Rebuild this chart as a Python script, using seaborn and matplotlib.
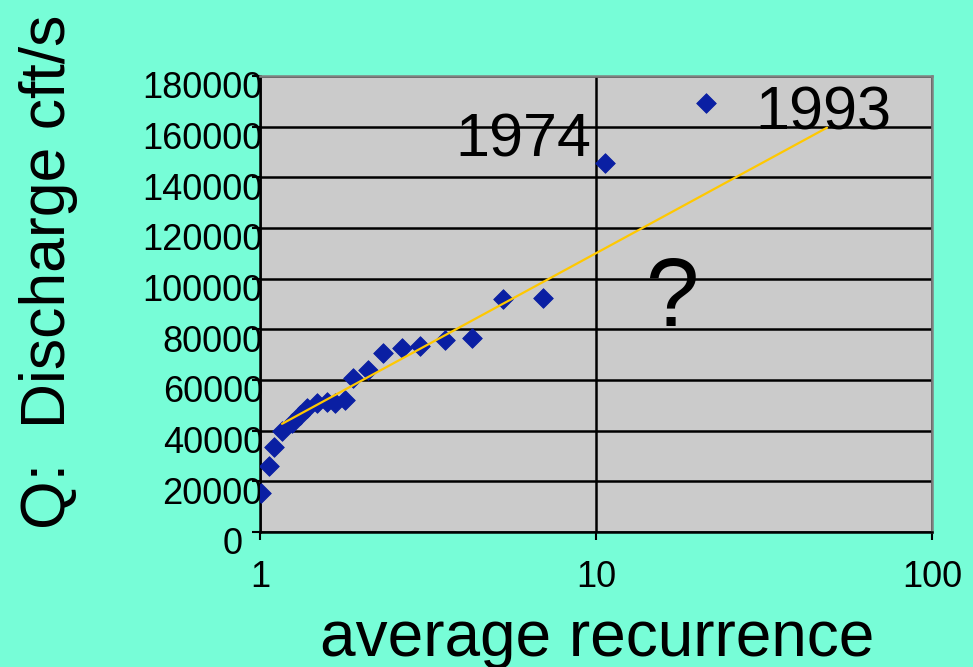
import numpy as np
import pandas as pd
import matplotlib
matplotlib.use("Agg")
import matplotlib.pyplot as plt
import matplotlib.transforms as mtransforms
from matplotlib.ticker import FixedLocator, NullLocator, FixedFormatter
import seaborn as sns

# ── DATA ──────────────────────────────────────────────────────
recurrence = [1.01, 1.064, 1.10, 1.163, 1.245, 1.315, 1.38, 1.478, 1.583, 1.671,
              1.79, 1.89, 2.10, 2.32, 2.65, 2.99, 3.55, 4.27, 5.29, 6.95, 10.6, 21.2]
discharge = [15400, 26100, 33600, 39900, 43100, 46200, 49000, 51000, 51400, 51000,
             52200, 60800, 64000, 70700, 72700, 73500, 75900, 76700, 92100, 92500,
             145800, 169500]

trend_x = [1.163, 48.7]
trend_y = [42700, 159600]

y_ticks = list(range(0, 180001, 20000))
x_ticks = [1, 10, 100]
x_tick_labels = ["1", "10", "100"]

notes = ["1974", "1993", "?"]
note_x = [6.06, 47.4, 16.8]
note_y = [148200, 158800, 81400]
note_size = [44, 44, 69]

df = pd.DataFrame({"recurrence": recurrence, "discharge": discharge})
trend = pd.DataFrame({"x": trend_x, "y": trend_y})

# ── STYLE ─────────────────────────────────────────────────────
sns.set_style("white")
plt.rcParams["font.family"] = ["Liberation Sans", "DejaVu Sans"]
plt.rcParams["text.color"] = "black"
plt.rcParams["xtick.color"] = "black"
plt.rcParams["ytick.color"] = "black"
plt.rcParams["xtick.labelcolor"] = "black"
plt.rcParams["ytick.labelcolor"] = "black"

BG = "#77FDD7"
PLOT_BG = "#CBCBCB"
BLUE = "#0A1FA3"
GOLD = "#FFC800"

fig = plt.figure(figsize=(9.73, 6.67), dpi=100, facecolor=BG)
ax = fig.add_axes([260 / 973, 1 - 532 / 667, 672 / 973, 456 / 667])
ax.set_facecolor(PLOT_BG)

# ── PLOT ──────────────────────────────────────────────────────
sns.scatterplot(data=df, x="recurrence", y="discharge", marker="D", s=100,
                color=BLUE, edgecolor=BLUE, linewidth=0.6, ax=ax, zorder=3)
sns.lineplot(data=trend, x="x", y="y", color=GOLD, linewidth=1.6, ax=ax, zorder=4)

ax.set_xscale("log")
ax.set_xlim(1, 100)
ax.set_ylim(0, 180000)

ax.xaxis.set_major_locator(FixedLocator(x_ticks))
ax.xaxis.set_major_formatter(FixedFormatter(x_tick_labels))
ax.xaxis.set_minor_locator(NullLocator())
ax.set_yticks(y_ticks)
ax.set_yticklabels([str(v) for v in y_ticks])

ax.grid(True, which="major", color="black", linewidth=1.8, zorder=1)
ax.set_axisbelow(True)

for side in ["left", "bottom"]:
    ax.spines[side].set_color("black")
    ax.spines[side].set_linewidth(1.8)
for side in ["top", "right"]:
    ax.spines[side].set_color("#808080")
    ax.spines[side].set_linewidth(1.8)

ax.tick_params(axis="y", direction="out", length=6, width=1.5, colors="black",
               labelsize=26, pad=-8, left=True)
ax.tick_params(axis="x", direction="out", length=6, width=1.5, colors="black",
               labelsize=26, pad=14, bottom=True)

# labels sit a little below their gridlines in the original; the "0" sits further left
for lab, val in zip(ax.get_yticklabels(), y_ticks):
    dx = -20 / 100 if val == 0 else 0
    off = mtransforms.ScaledTranslation(dx, -9 / 100, fig.dpi_scale_trans)
    lab.set_transform(lab.get_transform() + off)

ax.set_xlabel("")
ax.set_ylabel("")

for txt, xx, yy, fs in zip(notes, note_x, note_y, note_size):
    ax.text(xx, yy, txt, fontsize=fs, ha="center", va="baseline", color="black", zorder=5)

fig.text(49 / 973, 1 - 272 / 667, "Q:  Discharge cft/s", rotation=90,
         ha="center", va="center", fontsize=45, color="black")
fig.text(597 / 973, 1 - 656 / 667, "average recurrence",
         ha="center", va="baseline", fontsize=46, color="black")

plt.savefig("out.png", dpi=100, facecolor=BG)
